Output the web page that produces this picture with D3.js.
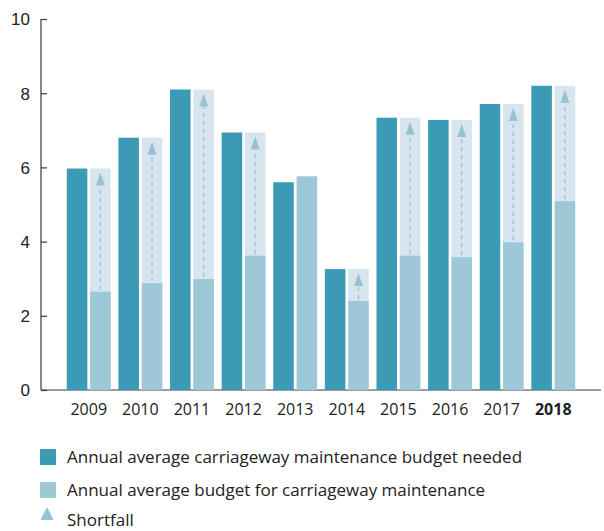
<!DOCTYPE html>
<html>
<head>
<meta charset="utf-8">
<script src="https://cdn.jsdelivr.net/npm/d3@7"></script>
<style>
  body { margin: 0; background: #fff; }
  svg { font-family: "Open Sans", "Noto Sans", sans-serif; }
</style>
</head>
<body>
<svg id="chart" width="604" height="531"></svg>
<script>
// data
const years = ["2009", "2010", "2011", "2012", "2013", "2014", "2015", "2016", "2017", "2018"];
const needed = [5.97, 6.80, 8.10, 6.94, 5.60, 3.26, 7.34, 7.28, 7.71, 8.20];
const budget = [2.65, 2.88, 2.99, 3.62, 5.76, 2.40, 3.62, 3.58, 3.98, 5.09];
const yTicks = [0, 2, 4, 6, 8, 10];
const legendLabels = ["Annual average carriageway maintenance budget needed",
                      "Annual average budget for carriageway maintenance",
                      "Shortfall"];

const c_dark = "#3b9bb6", c_light = "#9dc8d8", c_short = "#d7e6ee", c_arrow = "#97c1d4";

const svg = d3.select("#chart");
const x0 = 41, y0 = 390;

const x = d3.scaleBand().domain(years).range([x0, 601]).paddingInner(0.15).paddingOuter(0.5);
const xs = d3.scaleBand().domain(["need", "have"]).range([0, x.bandwidth()]).paddingInner(0.12);
const y = d3.scaleLinear().domain([0, 10]).range([y0, 19]);

const rows = years.map((yr, i) => ({ yr: yr, need: needed[i], have: budget[i] }));

// axes
const yAxis = svg.append("g").attr("transform", "translate(" + x0 + ",0)")
    .call(d3.axisRight(y).tickValues(yTicks).tickSize(6).tickFormat(d3.format("d")));
yAxis.select(".domain").attr("d", "M0," + y(10) + "V" + y0).attr("stroke", "#3a3a3a").attr("stroke-width", 1.2);
yAxis.selectAll(".tick line").attr("stroke", "#3a3a3a").attr("stroke-width", 1.2);
yAxis.selectAll(".tick text").attr("x", -11).attr("text-anchor", "end")
    .attr("font-size", 17).attr("fill", "#222").attr("dy", "0.35em");

svg.append("line").attr("x1", x0).attr("x2", 601).attr("y1", y0).attr("y2", y0)
    .attr("stroke", "#3a3a3a").attr("stroke-width", 1.2);

// bars
const grp = svg.selectAll(".grp").data(rows).join("g").classed("grp", true)
    .attr("transform", d => "translate(" + x(d.yr) + ",0)");

grp.append("rect") // needed
    .attr("x", xs("need")).attr("width", xs.bandwidth())
    .attr("y", d => y(d.need)).attr("height", d => y0 - y(d.need))
    .attr("fill", c_dark);

grp.filter(d => d.need > d.have).append("rect") // shortfall bg
    .attr("x", xs("have")).attr("width", xs.bandwidth())
    .attr("y", d => y(d.need)).attr("height", d => y0 - y(d.need))
    .attr("fill", c_short);

grp.append("rect") // actual budget
    .attr("x", xs("have")).attr("width", xs.bandwidth())
    .attr("y", d => y(d.have)).attr("height", d => y0 - y(d.have))
    .attr("fill", c_light);

// shortfall arrows
const sf = grp.filter(d => d.need > d.have);
const cx = xs("have") + xs.bandwidth() / 2;
sf.append("line")
    .attr("x1", cx).attr("x2", cx)
    .attr("y1", d => y(d.have) - 2).attr("y2", d => y(d.need) + 14)
    .attr("stroke", "#9bbccb").attr("stroke-width", 1.2).attr("stroke-dasharray", "4,4");
sf.append("path")
    .attr("d", d => { var t = y(d.need) + 4; return "M" + cx + "," + t + "L" + (cx + 4.5) + "," + (t + 13) + "L" + (cx - 4.5) + "," + (t + 13) + "Z"; })
    .attr("fill", c_arrow);

// x labels
svg.selectAll(".xl").data(years).join("text").classed("xl", true)
    .attr("x", d => x(d) + x.bandwidth() / 2).attr("y", 415)
    .attr("text-anchor", "middle").attr("font-size", 16).attr("fill", "#222")
    .attr("font-weight", d => d === "2018" ? "bold" : "normal")
    .text(d => d);

// legend
const lgTop = [449, 482, 512];
const lg = svg.selectAll(".lg").data(legendLabels).join("g").classed("lg", true)
    .attr("transform", (d, i) => "translate(40," + lgTop[i] + ")");
lg.filter((d, i) => i < 2).append("rect")
    .attr("width", 16).attr("height", 16)
    .attr("fill", (d, i) => i === 0 ? c_dark : c_light);
lg.filter((d, i) => i === 2).append("path")
    .attr("d", "M7,-5L13.5,8L0.5,8Z").attr("fill", c_arrow);
lg.append("text").attr("x", 27).attr("y", 14)
    .attr("font-size", 17).attr("fill", "#222")
    .text(d => d);
</script>
</body>
</html>
